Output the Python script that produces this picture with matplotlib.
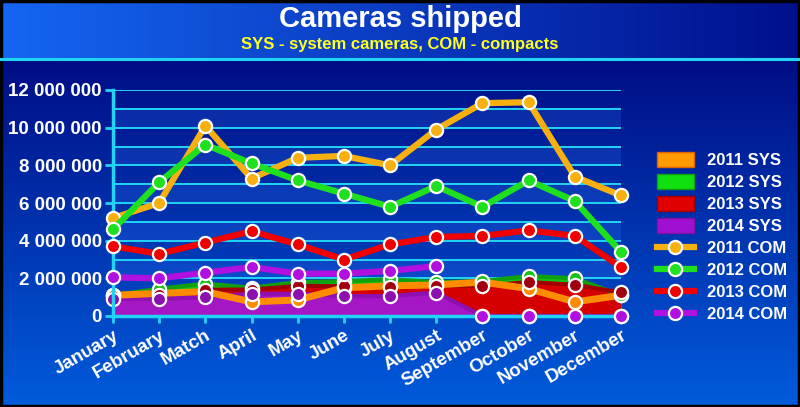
import numpy as np
import matplotlib
matplotlib.use('Agg')
import matplotlib.pyplot as plt
from matplotlib.patches import Patch
from matplotlib.lines import Line2D

months = ['January', 'February', 'Match', 'April', 'May', 'June', 'July',
          'August', 'September', 'October', 'November', 'December']

# system cameras (areas), millions
sys_2011 = [1.10, 1.20, 1.30, 0.75, 0.85, 1.50, 1.60, 1.65, 1.80, 1.45, 0.75, 1.10]
sys_2012 = [1.10, 1.45, 1.72, 1.50, 1.80, 1.85, 1.95, 1.80, 1.85, 2.12, 2.00, 1.10]
sys_2013 = [1.05, 1.10, 1.40, 1.40, 1.60, 1.58, 1.55, 1.60, 1.60, 1.80, 1.66, 1.25]
sys_2014 = [0.92, 0.92, 1.00, 1.18, 1.18, 1.05, 1.06, 1.24, 0, 0, 0, 0]

# compacts (lines), millions
com_2011 = [5.20, 6.00, 10.10, 7.30, 8.40, 8.50, 8.00, 9.90, 11.30, 11.35, 7.40, 6.40]
com_2012 = [4.60, 7.10, 9.10, 8.10, 7.20, 6.50, 5.80, 6.90, 5.80, 7.20, 6.10, 3.40]
com_2013 = [3.70, 3.30, 3.90, 4.50, 3.80, 3.00, 3.80, 4.20, 4.25, 4.55, 4.25, 2.60]
com_2014 = [2.05, 2.00, 2.30, 2.60, 2.25, 2.25, 2.40, 2.65, 0, 0, 0, 0]

W, H = 800, 407
fig = plt.figure(figsize=(W / 100, H / 100), dpi=100)
font = dict(family='Liberation Sans', weight='bold')
cyan = '#22d4f4'

# background gradient
bg = fig.add_axes([0, 0, 1, 1], zorder=-10)
bg.axis('off')
img = np.zeros((H, W, 3))
xs = np.linspace(0, 1, W)
top_l = np.array([0.08, 0.40, 0.95])
top_r = np.array([0.00, 0.06, 0.55])
img[:58] = top_l + (top_r - top_l) * xs[None, :, None]
ys = np.linspace(0, 1, H - 58)[:, None, None]
lo_t = np.array([0.00, 0.05, 0.52])
lo_b = np.array([0.00, 0.36, 0.86])
img[58:] = lo_t + (lo_b - lo_t) * ys + 0.0 * xs[None, :, None]
bg.imshow(img, aspect='auto', extent=[0, W, H, 0])
bg.plot([0, W], [59, 59], color=cyan, lw=2.2)
bg.add_patch(plt.Rectangle((0.5, 0.5), W - 1.5, H - 1.5, fill=False, ec='black', lw=2.5))
bg.set_xlim(0, W)
bg.set_ylim(H, 0)

fig.text(0.5, 1 - 19 / H, 'Cameras shipped', color='white', fontsize=21,
         ha='center', va='center', **font)
fig.text(0.5, 1 - 44 / H, 'SYS - system cameras, COM - compacts', color='#ffff20',
         fontsize=12, ha='center', va='center', **font)

ax = fig.add_axes([113 / W, 1 - 316 / H, 508 / W, 226 / H])
ax.set_facecolor('none')
x = np.arange(12)
scale = 1e6

for k in range(12):
    if k % 2 == 0:
        ax.axhspan(k * scale, (k + 1) * scale, color='#3a7cff', alpha=0.2, lw=0, zorder=0)
for k in range(1, 13):
    ax.axhline(k * scale, color=cyan, lw=1.4, zorder=1)

# system camera areas
areas = [(sys_2012, '#12c412', '#10a010'), (sys_2011, '#ff8c00', '#ff8800'),
         (sys_2013, '#d40000', '#a00000'), (sys_2014, '#a516c4', '#8e10b0')]
for vals, fc, ec in areas:
    v = np.array(vals) * scale
    ax.fill_between(x, 0, v, color=fc, lw=0, zorder=2)
    ax.plot(x, v, color=ec, lw=3, zorder=2.5)
ax.plot(x, np.array(sys_2011) * scale, color='#ff8c00', lw=5, zorder=2.6)

sys_markers = [(sys_2011, '#ff8c00'), (sys_2012, '#18c018'),
               (sys_2013, '#a00010'), (sys_2014, '#8c10ae')]
for vals, mc in sys_markers:
    ax.plot(x, np.array(vals) * scale, ls='none', marker='o', ms=9.5, mfc=mc,
            mec='white', mew=1.6, zorder=3, clip_on=False)

# compacts
lines = [(com_2011, '#f8b010'), (com_2012, '#1ee01e'),
         (com_2013, '#f00000'), (com_2014, '#b010e0')]
for i, (vals, c) in enumerate(lines):
    v = np.array(vals) * scale
    vl = np.where(v > 0, v, np.nan)
    ax.plot(x, vl, color=c, lw=4.5, zorder=4 + i, solid_capstyle='round')
    ax.plot(x, v, ls='none', marker='o', ms=9.5, mfc=c, mec='white', mew=1.6,
            zorder=4 + i, clip_on=False)

ax.set_xlim(0, 11)
ax.set_ylim(0, 12 * scale)
ax.set_yticks(np.arange(0, 13, 2) * scale)
ax.set_yticklabels([f'{int(v):,}'.replace(',', ' ') for v in np.arange(0, 13, 2) * scale],
                   color='white', fontsize=13.5, **font)
ax.set_xticks(x)
ax.set_xticklabels(months, rotation=30, ha='right', rotation_mode='anchor',
                   color='white', fontsize=13.5, **font)
ax.tick_params(axis='y', length=6, width=2, color=cyan, pad=2)
ax.tick_params(axis='x', length=5, width=2, color=cyan, pad=3)
for s in ['top', 'right']:
    ax.spines[s].set_visible(False)
for s in ['left', 'bottom']:
    ax.spines[s].set_color(cyan)
    ax.spines[s].set_linewidth(2.5)
    ax.spines[s].set_zorder(3.5)

handles = [Patch(fc='#ff9a00', ec='#e06000'), Patch(fc='#10e010', ec='#10a010'),
           Patch(fc='#e00000', ec='#a00000'), Patch(fc='#a010d0', ec='#8010a0')]
for vals, c in lines:
    handles.append(Line2D([], [], color=c, lw=4.5, marker='o', ms=9.5, mfc=c,
                          mec='white', mew=1.6))
labels = ['2011 SYS', '2012 SYS', '2013 SYS', '2014 SYS',
          '2011 COM', '2012 COM', '2013 COM', '2014 COM']
fig.legend(handles, labels, loc='upper left', bbox_to_anchor=(642 / W, 1 - 137 / H),
           frameon=False, labelcolor='white', prop=dict(size=12, **font),
           handlelength=2.2, handleheight=1.0, labelspacing=0.35, handletextpad=0.8)

fig.savefig('out.png', dpi=100)
